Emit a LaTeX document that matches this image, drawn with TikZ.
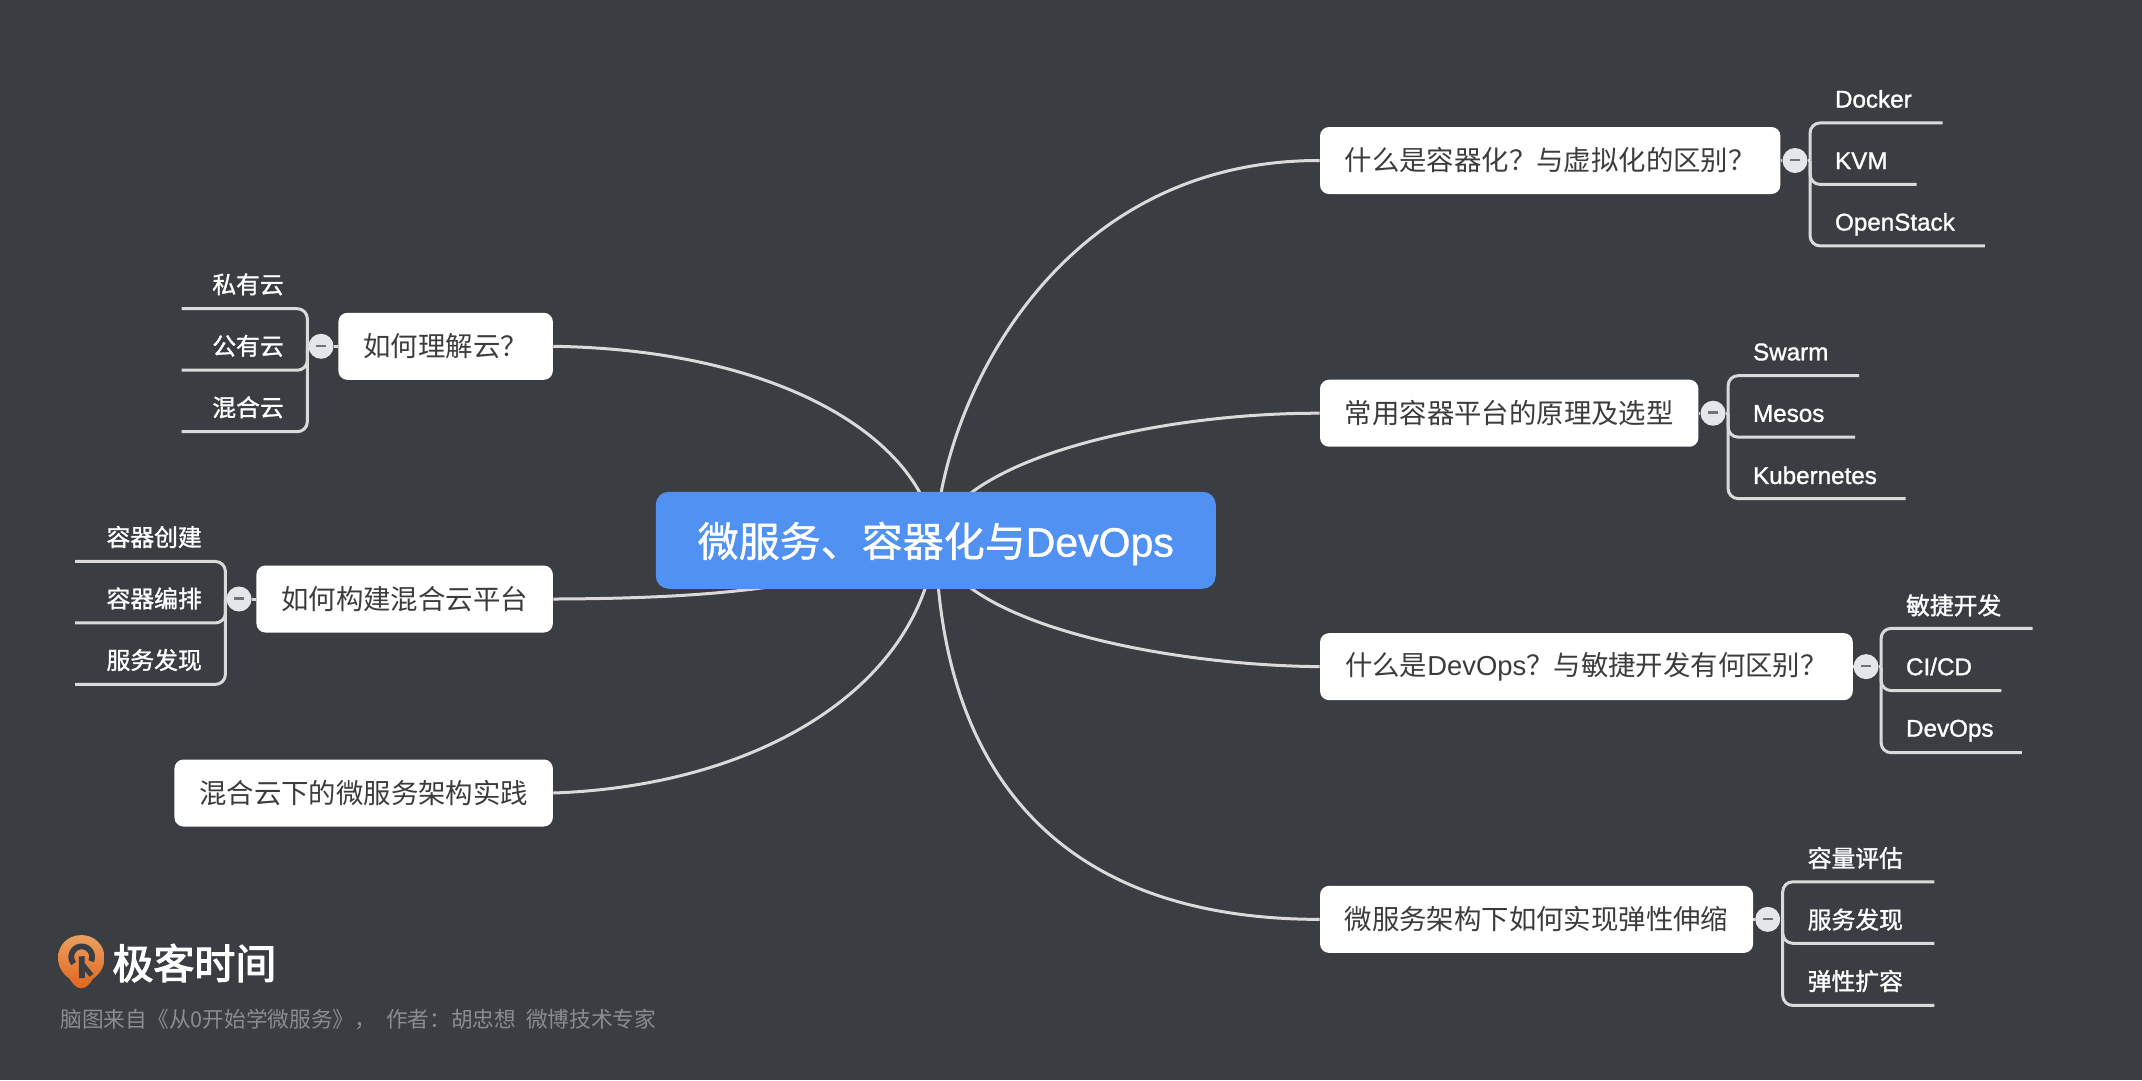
\documentclass[tikz,border=0pt]{standalone}
\usepackage{fontspec}
\setmainfont{Noto Sans CJK SC}
\newfontfamily\lat{Liberation Sans}
\definecolor{bgc}{HTML}{3A3D42}
\definecolor{blue}{HTML}{5091F2}
\definecolor{ink}{HTML}{3C3C3C}
\definecolor{wire}{HTML}{DADADA}
\definecolor{foot}{HTML}{8A8C90}
\definecolor{orangeA}{HTML}{E9A060}
\definecolor{orangeB}{HTML}{E2661E}
\definecolor{togglec}{HTML}{E4E6EA}
\definecolor{dashc}{HTML}{707276}
\newcommand{\heavy}[2]{\special{pdf:code 2 Tr #1 w}#2\special{pdf:code 0 Tr}}
\tikzset{
  main/.style={fill=blue,text=white,rounded corners=6.5pt,minimum width=280pt,minimum height=48.5pt,inner sep=0pt,font=\fontsize{20.5}{24}\selectfont},
  topic/.style={fill=white,text=ink,rounded corners=4.5pt,minimum width=#1*0.683pt,minimum height=33.5pt,inner sep=0pt,font=\fontsize{13.7}{16}\selectfont},
  leaf/.style={text=white,inner sep=0pt,text height=9pt,text depth=2.5pt,font=\fontsize{11.9}{14}\selectfont},
  leaflat/.style={leaf,font=\lat\fontsize{12.1}{14}\selectfont},
  link/.style={draw=wire,line width=1.5pt},
  stem/.style={draw=wire,line width=1.5pt,rounded corners=5pt},
  toggle/.style={circle,fill=togglec,draw=none,minimum size=12.5pt,inner sep=0pt}
}
\newcommand{\dash}{\textcolor{dashc}{\rule[0.5pt]{5pt}{1.3pt}}}
\begin{document}
\begin{tikzpicture}[x=0.683pt,y=-0.683pt]
\fill[bgc] (0,0) rectangle (1568,790.6);
\useasboundingbox (0,0) rectangle (1568,790.6);

% free ends / hub
\coordinate (hub) at (685,395);

% topic boxes
\node[topic=337,anchor=west] (n1) at (966,117.5) {什么是容器化？与虚拟化的区别？};
\node[topic=277,anchor=west] (n2) at (966,302.5) {常用容器平台的原理及选型};
\node[topic=390,anchor=west] (n3) at (966,488) {什么是{\lat DevOps}？与敏捷开发有何区别？};
\node[topic=317,anchor=west] (n4) at (966,673) {微服务架构下如何实现弹性伸缩};
\node[topic=157,anchor=east] (l1) at (405,253.5) {如何理解云？};
\node[topic=217,anchor=east] (l2) at (405,438.5) {如何构建混合云平台};
\node[topic=277,anchor=east] (l3) at (405,580.5) {混合云下的微服务架构实践};

% curved links (run under the central box)
\draw[link] (hub) .. controls (688,300) and (770,117) .. (n1.west);
\draw[link] (hub) .. controls (700,335) and (850,302) .. (n2.west);
\draw[link] (hub) .. controls (695,455) and (850,487) .. (n3.west);
\draw[link] (hub) .. controls (688,560) and (770,673) .. (n4.west);
\draw[link] (l1.east) .. controls (570,256) and (675,320) .. (hub);
\draw[link] (l2.east) .. controls (520,438) and (610,431) .. (hub);
\draw[link] (l3.east) .. controls (560,575) and (675,500) .. (hub);

\node[main] (centre) at (685,395.5) {\raisebox{-1.6pt}[\height][\depth]{\heavy{0.2}{微服务、容器化与{\lat DevOps}}}};

% branch 1
\node[toggle] (t1) at (1314,117.5) {\dash};
\coordinate (s1) at (1325,117.5);
\coordinate (e1a) at (1422,90); \coordinate (e1b) at (1403,135); \coordinate (e1c) at (1453,180);
\draw[link] (n1.east) -- (t1) -- (s1);
\draw[stem] (s1) |- (e1a); \draw[stem] (s1) |- (e1b); \draw[stem] (s1) |- (e1c);
\node[leaflat,anchor=west] (a1) at (1343,74) {\heavy{0.15}{Docker}};
\node[leaflat,anchor=west] (a2) at (1343,119) {\heavy{0.15}{KVM}};
\node[leaflat,anchor=west] (a3) at (1343,164) {\heavy{0.15}{OpenStack}};

% branch 2
\node[toggle] (t2) at (1254,302.5) {\dash};
\coordinate (s2) at (1265,302.5);
\coordinate (e2a) at (1361,275); \coordinate (e2b) at (1358,320); \coordinate (e2c) at (1395,365);
\draw[link] (n2.east) -- (t2) -- (s2);
\draw[stem] (s2) |- (e2a); \draw[stem] (s2) |- (e2b); \draw[stem] (s2) |- (e2c);
\node[leaflat,anchor=west] (b1) at (1283,259) {\heavy{0.15}{Swarm}};
\node[leaflat,anchor=west] (b2) at (1283,304) {\heavy{0.15}{Mesos}};
\node[leaflat,anchor=west] (b3) at (1283,349.5) {\heavy{0.15}{Kubernetes}};

% branch 3
\node[toggle] (t3) at (1366,488) {\dash};
\coordinate (s3) at (1377,488);
\coordinate (e3a) at (1488,460); \coordinate (e3b) at (1465,505.5); \coordinate (e3c) at (1480,551);
\draw[link] (n3.east) -- (t3) -- (s3);
\draw[stem] (s3) |- (e3a); \draw[stem] (s3) |- (e3b); \draw[stem] (s3) |- (e3c);
\node[leaf,anchor=west] (c1) at (1395,445) {\heavy{0.15}{敏捷开发}};
\node[leaflat,anchor=west] (c2) at (1395,489.5) {\heavy{0.15}{CI/CD}};
\node[leaflat,anchor=west] (c3) at (1395,534.5) {\heavy{0.15}{DevOps}};

% branch 4
\node[toggle] (t4) at (1294,673) {\dash};
\coordinate (s4) at (1305,673);
\coordinate (e4a) at (1416,645.5); \coordinate (e4b) at (1416,690.5); \coordinate (e4c) at (1416,736);
\draw[link] (n4.east) -- (t4) -- (s4);
\draw[stem] (s4) |- (e4a); \draw[stem] (s4) |- (e4b); \draw[stem] (s4) |- (e4c);
\node[leaf,anchor=west] (d1) at (1323,630) {\heavy{0.15}{容量评估}};
\node[leaf,anchor=west] (d2) at (1323,675) {\heavy{0.15}{服务发现}};
\node[leaf,anchor=west] (d3) at (1323,720) {\heavy{0.15}{弹性扩容}};

% left branch 1
\node[toggle] (t5) at (235,253.5) {\dash};
\coordinate (s5) at (225,253.5);
\coordinate (e5a) at (133,226); \coordinate (e5b) at (133,271); \coordinate (e5c) at (133,316);
\draw[link] (l1.west) -- (t5) -- (s5);
\draw[stem] (s5) |- (e5a); \draw[stem] (s5) |- (e5b); \draw[stem] (s5) |- (e5c);
\node[leaf,anchor=east] (f1) at (208,210) {\heavy{0.15}{私有云}};
\node[leaf,anchor=east] (f2) at (208,255) {\heavy{0.15}{公有云}};
\node[leaf,anchor=east] (f3) at (208,300) {\heavy{0.15}{混合云}};

% left branch 2
\node[toggle] (t6) at (175,438.5) {\dash};
\coordinate (s6) at (165,438.5);
\coordinate (e6a) at (55,411); \coordinate (e6b) at (55,456); \coordinate (e6c) at (55,501);
\draw[link] (l2.west) -- (t6) -- (s6);
\draw[stem] (s6) |- (e6a); \draw[stem] (s6) |- (e6b); \draw[stem] (s6) |- (e6c);
\node[leaf,anchor=east] (g1) at (148,395) {\heavy{0.15}{容器创建}};
\node[leaf,anchor=east] (g2) at (148,440) {\heavy{0.15}{容器编排}};
\node[leaf,anchor=east] (g3) at (148,485) {\heavy{0.15}{服务发现}};

% logo mark
\shade[top color=orangeA,bottom color=orangeB]
  (59.5,684.5) .. controls (49.5,684.5) and (42.5,692) .. (42.5,701)
  .. controls (42.5,708) and (46,713) .. (51,716.5)
  .. controls (53,720) and (56,723.5) .. (59.5,723.5)
  .. controls (63,723.5) and (66,720) .. (68,716.5)
  .. controls (73,713) and (76.5,708) .. (76.5,701)
  .. controls (76.5,692) and (69.5,684.5) .. (59.5,684.5) -- cycle;
\draw[bgc,line width=2.9pt] plot[smooth,domain=220:-25,samples=30] ({59.8+7.6*cos(\x)},{700.4-7.6*sin(\x)});
\draw[bgc,line width=2.9pt] (59.8,700) -- (60,716);
\draw[bgc,line width=2.4pt] (60.5,706) -- (67,714);

\node[anchor=west,inner sep=0pt,text=white,font=\fontsize{20.5}{24}\selectfont] (brand) at (82,705) {\heavy{0.55}{极客时间}};
\node[anchor=west,inner sep=0pt,text=foot,font=\fontsize{10.85}{13}\selectfont] (credit) at (44,746.5) {脑图来自《从0开始学微服务》， \ 作者：胡忠想 \ 微博技术专家};
\end{tikzpicture}
\end{document}
